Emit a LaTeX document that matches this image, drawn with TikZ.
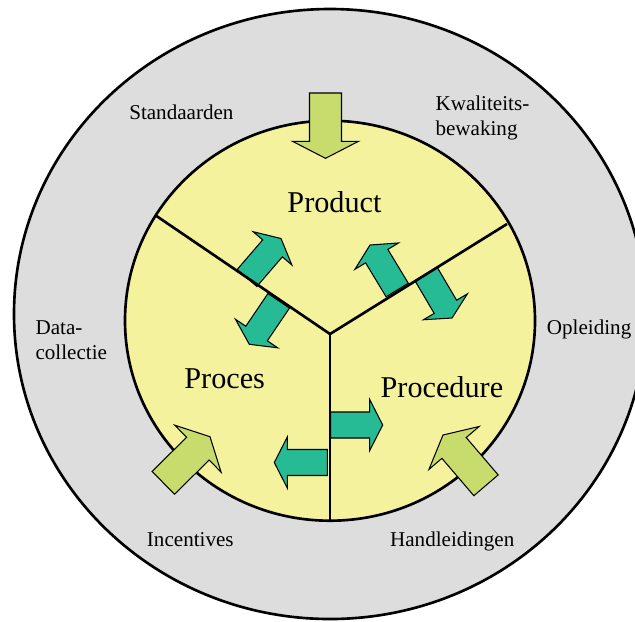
\documentclass[tikz,border=0pt]{standalone}
\usepackage{fontspec}
\setmainfont{Liberation Serif}
\usetikzlibrary{calc}

\definecolor{ringgray}{RGB}{221,221,221}
\definecolor{coreyellow}{RGB}{245,242,158}
\definecolor{flowteal}{RGB}{38,187,148}
\definecolor{inputlime}{RGB}{200,220,110}

\tikzset{
  ring/.style={line width=1.5pt},
  divider/.style={line width=1.5pt},
  flow/.style={draw=black,line width=0.6pt,fill=flowteal},
  input/.style={draw=black,line width=0.6pt,fill=inputlime},
  factor/.style={font=\fontsize{12}{14.2}\selectfont,inner sep=0pt,align=left},
  part/.style={font=\fontsize{17.2}{20}\selectfont,inner sep=0pt},
}

% block arrow: style, base, tip, half shaft, half head, head length
\newcommand{\blockarrow}[6]{%
  \coordinate (ba base) at #2;
  \coordinate (ba tip) at #3;
  \coordinate (ba neck) at ($(ba tip)!#6!(ba base)$);
  \draw[#1] ($(ba base)!#4!90:(ba tip)$) -- ($(ba neck)!#4!90:(ba tip)$)
    -- ($(ba neck)!#5!90:(ba tip)$) -- (ba tip)
    -- ($(ba neck)!#5!-90:(ba tip)$) -- ($(ba neck)!#4!-90:(ba tip)$)
    -- ($(ba base)!#4!-90:(ba tip)$) -- cycle;}
\newcommand{\flowarrow}[2]{\blockarrow{flow}{#1}{#2}{2.6mm}{5.1mm}{2.6mm}}
\newcommand{\inputarrow}[2]{\blockarrow{input}{#1}{#2}{3.2mm}{6.6mm}{3.4mm}}

\begin{document}
\begin{tikzpicture}[x=0.2mm,y=-0.2mm]
\useasboundingbox (0,0) rectangle (635,621);
\fill[white] (0,0) rectangle (635,621);

% rings
\draw[ring,fill=ringgray] (330,314) ellipse [x radius=316, y radius=305];
\draw[ring,fill=coreyellow] (330,320.7) ellipse [x radius=205, y radius=200];

\coordinate (hub) at (330,334);
\coordinate (left end) at (155,215);
\coordinate (right end) at (507,224);
\coordinate (bottom end) at (330,521);

% exchange between the parts
\flowarrow{(247,278)}{(281,238.5)}
\flowarrow{(278.7,300.8)}{(249.3,344.3)}
\flowarrow{(397.2,290)}{(370,245)}
\flowarrow{(426.2,274.2)}{(452,318)}
\flowarrow{(330.7,425)}{(382.7,425)}
\flowarrow{(327.3,462.5)}{(274.3,462.5)}

\draw[divider] (left end) -- (hub) -- (right end);
\draw[divider] (hub) -- (bottom end);

% inputs from outside
\inputarrow{(325.5,93)}{(325.5,158.3)}
\inputarrow{(163.3,482.8)}{(210,436.7)}
\inputarrow{(486,485.3)}{(443,435)}

\node[part,anchor=base] (product) at (334.5,212.3) {Product};
\node[part,anchor=base] (proces) at (224.7,388.9) {Proces};
\node[part,anchor=base] (procedure) at (441.9,397.2) {Procedure};

\node[factor,anchor=base] (standaarden) at (181.4,119.6) {Standaarden};
\node[factor,anchor=base west] (kwaliteit) at (435.2,135.8) {Kwaliteits-\\bewaking};
\node[factor,anchor=base west] (data) at (35.2,359.6) {Data-\\collectie};
\node[factor,anchor=base west] (opleiding) at (546.6,334.7) {Opleiding};
\node[factor,anchor=base] (incentives) at (190.3,546.5) {Incentives};
\node[factor,anchor=base] (handleiding) at (452.2,546.5) {Handleidingen};

\end{tikzpicture}
\end{document}
